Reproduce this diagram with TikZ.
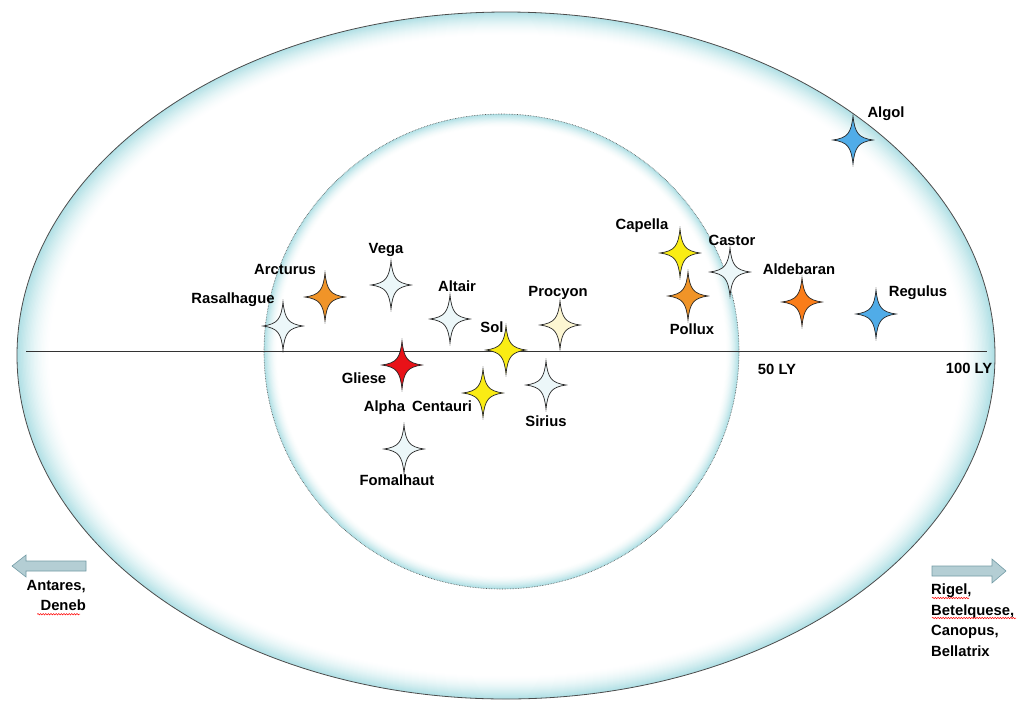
\documentclass[tikz,border=0pt]{standalone}
\usepackage{fontspec}
\setmainfont{Liberation Sans}
\usetikzlibrary{decorations.pathmorphing}
\definecolor{ringblue}{RGB}{176,224,229}
\definecolor{arrowfill}{RGB}{180,206,212}
\definecolor{arrowdraw}{RGB}{115,155,165}
\definecolor{starblue}{RGB}{80,172,232}
\definecolor{starwhite}{RGB}{236,247,249}
\definecolor{staryellow}{RGB}{250,236,20}
\definecolor{starorange}{RGB}{240,148,40}
\definecolor{starorange2}{RGB}{250,125,25}
\definecolor{starcream}{RGB}{252,246,210}
\definecolor{starred}{RGB}{232,18,24}
\tikzset{
  lbl/.style={font=\fontsize{14.8}{17}\selectfont\bfseries, inner sep=0pt, text=black},
  side/.style={font=\fontsize{14.8}{20.5}\selectfont\bfseries, inner sep=0pt, text=black},
  blockarrow/.style={fill=arrowfill, draw=arrowdraw, line width=0.6pt, line join=miter},
  spell/.style={draw=red, line width=0.5pt, decorate, decoration={snake, amplitude=0.7pt, segment length=2.6pt}},
  pics/fourstar/.style={code={
    \filldraw[fill=#1, draw=black!85, line width=0.7pt]
      (0,-24) .. controls (1.8,-7) and (5.5,-2) .. (20,0)
      .. controls (5.5,2) and (1.8,7) .. (0,24)
      .. controls (-1.8,7) and (-5.5,2) .. (-20,0)
      .. controls (-5.5,-2) and (-1.8,-7) .. (0,-24) -- cycle;
  }}
}
\begin{document}
\begin{tikzpicture}[x=1pt,y=-1pt]
\useasboundingbox (0,0) rectangle (1023,705);
\coordinate (oc) at (506,355.5);
\coordinate (ic) at (501.5,351.5);
% outer ring gradient
\foreach \i in {0,...,24}{
  \pgfmathsetmacro\s{1-0.068*\i/24}
  \pgfmathsetmacro\c{100*(1-\i/24)^1.7}
  \fill[ringblue!\c!white] (oc) ellipse [x radius=\s*489pt, y radius=\s*343.5pt];
}
\draw[black!70, line width=0.8pt] (oc) ellipse [x radius=489pt, y radius=343.5pt];
% inner ring gradient
\foreach \i in {0,...,16}{
  \pgfmathsetmacro\s{1-0.055*\i/16}
  \pgfmathsetmacro\c{100*(1-\i/16)^1.7}
  \fill[ringblue!\c!white] (ic) circle [radius=\s*237.5pt];
}
\draw[black!70, densely dotted, line width=0.6pt] (ic) circle [radius=237.5pt];
% axis
\coordinate (axl) at (26,351);
\coordinate (axr) at (987,351);
\draw[black!80, line width=0.8pt] (axl) -- (axr);
% star positions
\coordinate (algol) at (853,140);
\coordinate (rasalhague) at (283,326);
\coordinate (arcturus) at (325,297);
\coordinate (vega) at (391,285);
\coordinate (altair) at (450,319);
\coordinate (sol) at (506,350);
\coordinate (procyon) at (560,325);
\coordinate (gliese) at (402,365);
\coordinate (alphacen) at (483,393);
\coordinate (sirius) at (546,385);
\coordinate (fomalhaut) at (404,449);
\coordinate (capella) at (680,253);
\coordinate (castor) at (730,272);
\coordinate (pollux) at (688,296);
\coordinate (aldebaran) at (802,302);
\coordinate (regulus) at (876,314);
% stars
\pic at (algol) {fourstar=starblue};
\pic at (rasalhague) {fourstar=starwhite};
\pic at (arcturus) {fourstar=starorange};
\pic at (vega) {fourstar=starwhite};
\pic at (altair) {fourstar=starwhite};
\pic at (sol) {fourstar=staryellow};
\pic at (procyon) {fourstar=starcream};
\pic at (gliese) {fourstar=starred};
\pic at (alphacen) {fourstar=staryellow};
\pic at (sirius) {fourstar=starwhite};
\pic at (fomalhaut) {fourstar=starwhite};
\pic at (capella) {fourstar=staryellow};
\pic at (castor) {fourstar=starwhite};
\pic at (pollux) {fourstar=starorange};
\pic at (aldebaran) {fourstar=starorange2};
\pic at (regulus) {fourstar=starblue};
% labels
\node[lbl] (lalgol) at (886,114) {Algol};
\node[lbl] (lrasalhague) at (233,300) {Rasalhague};
\node[lbl] (larcturus) at (285,269) {Arcturus};
\node[lbl] (lvega) at (386,250) {Vega};
\node[lbl] (laltair) at (457,286) {Altair};
\node[lbl] (lsol) at (492,327) {Sol};
\node[lbl] (lprocyon) at (558,293) {Procyon};
\node[lbl] (lgliese) at (364,378) {Gliese};
\node[lbl] (lalphacen) at (418,408) {Alpha\hspace{7pt}Centauri};
\node[lbl] (lsirius) at (546,421) {Sirius};
\node[lbl] (lfomalhaut) at (397,480) {Fomalhaut};
\node[lbl] (lcapella) at (642,226) {Capella};
\node[lbl] (lcastor) at (732,240) {Castor};
\node[lbl] (lpollux) at (692,329) {Pollux};
\node[lbl] (laldebaran) at (799,269) {Aldebaran};
\node[lbl] (lregulus) at (918,293) {Regulus};
\node[lbl] (l50) at (777,369) {50 LY};
\node[lbl] (l100) at (969,368) {100 LY};
% side arrows
\draw[blockarrow] (12,566) -- (26,555) -- (26,561) -- (86,561) -- (86,571) -- (26,571) -- (26,577) -- cycle;
\draw[blockarrow] (1006,571) -- (992,559) -- (992,566) -- (932,566) -- (932,576) -- (992,576) -- (992,583) -- cycle;
\node[side, align=right, anchor=north east] (leftstars) at (86,580) {Antares,\\Deneb};
\node[side, align=left, anchor=north west] (rightstars) at (931,584) {Rigel,\\Betelquese,\\Canopus,\\Bellatrix};
\draw[spell] ([yshift=-3pt]leftstars.south) ++(-19,0) coordinate (d1) -- ++(43,0);
\draw[spell] (932,598) -- (969,598);
\draw[spell] (932,618) -- (1016,618);
\end{tikzpicture}
\end{document}
